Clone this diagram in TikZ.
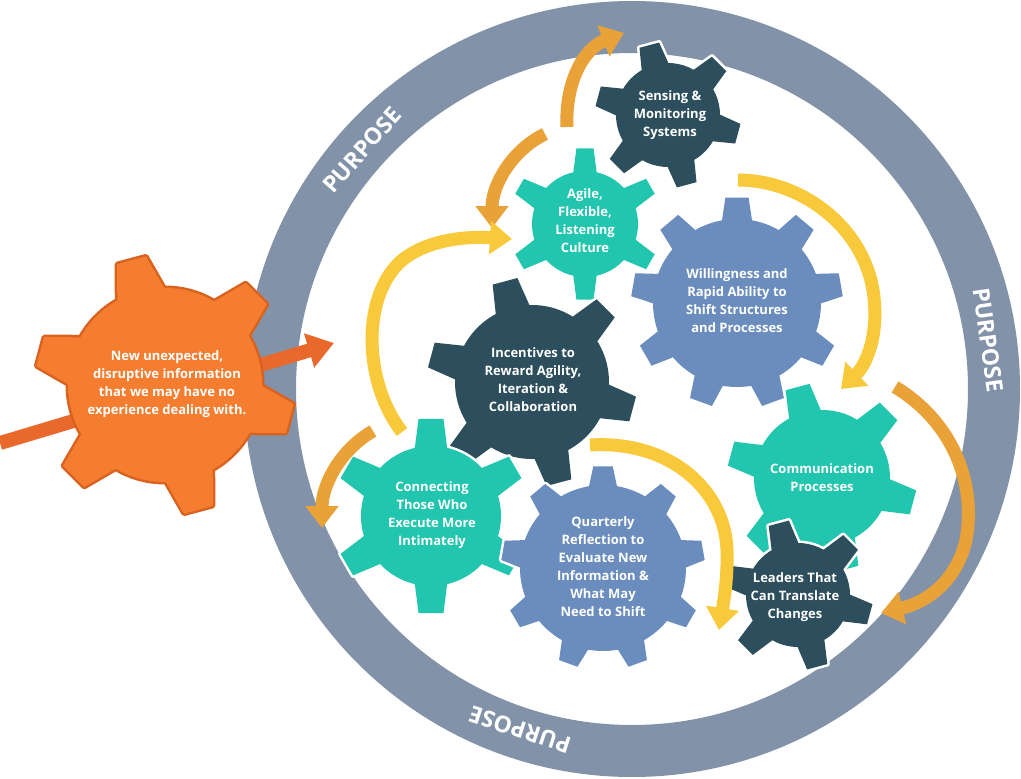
\documentclass[tikz,border=0pt]{standalone}
\usepackage{fontspec}
\setmainfont{Open Sans}
\usetikzlibrary{arrows.meta}
\definecolor{ringc}{HTML}{8293A9}
\definecolor{darkc}{HTML}{2D4E5C}
\definecolor{tealc}{HTML}{22C5AE}
\definecolor{bluec}{HTML}{6A8DBD}
\definecolor{ogfill}{HTML}{F47D30}
\definecolor{ogline}{HTML}{D9621F}
\definecolor{inarrowc}{HTML}{E8692B}
\definecolor{yelc}{HTML}{F8C93A}
\definecolor{ambc}{HTML}{E8A238}
\colorlet{gearline}{white}
% #1 x, #2 y, #3 body radius, #4 tooth radius, #5 teeth, #6 offset angle, #7 base half angle, #8 top half angle, #9 fill
\newcommand\gear[9]{%
  \begin{scope}[shift={(#1,#2)}]
    \path[draw=gearline,line width=5,fill=gearline,line join=round] (0,0) circle[radius=#3]
      \foreach \i in {1,...,#5}{ ({-(#6)-\i*360/#5-(#7)}:{#3-3}) -- ({-(#6)-\i*360/#5-(#8)}:#4)
        -- ({-(#6)-\i*360/#5+(#8)}:#4) -- ({-(#6)-\i*360/#5+(#7)}:{#3-3}) -- cycle };
    \path[fill=#9] (0,0) circle[radius=#3]
      \foreach \i in {1,...,#5}{ ({-(#6)-\i*360/#5-(#7)}:{#3-3}) -- ({-(#6)-\i*360/#5-(#8)}:#4)
        -- ({-(#6)-\i*360/#5+(#8)}:#4) -- ({-(#6)-\i*360/#5+(#7)}:{#3-3}) -- cycle };
  \end{scope}}
\begin{document}
\begin{tikzpicture}[x=1pt,y=-1pt,
  gtext/.style={text=white,font=\bfseries\fontsize{13}{18}\selectfont,align=center,inner sep=0pt},
  purp/.style={text=white,font=\bfseries\fontsize{23}{26}\selectfont,inner sep=0pt},
  yel/.style={draw=yelc,line width=13,-{Triangle[width=32pt,length=22pt]}},
  amb/.style={draw=ambc,line width=13,-{Triangle[width=32pt,length=22pt]}}]
\useasboundingbox (0,0) rectangle (1021,779);
\fill[white] (0,0) rectangle (1021,779);
% ring
\draw[ringc,line width=52] (632,389) circle[radius=362];
\node[purp,rotate=48.5] (p1) at (362,150) {PURPOSE};
\node[purp,rotate=-82] (p2) at (988,340) {PURPOSE};
\node[purp,rotate=162] (p3) at (520,730) {PURPOSE};
% incoming arrow
\coordinate (ins) at (0,443);
\coordinate (ine) at (334,343);
\draw[inarrowc,line width=14,-{Triangle[width=34pt,length=26pt]}] (ins) -- (ine);
% orange gear
\colorlet{gearline}{ogline}
\gear{165}{385}{97}{130}{6}{45}{15.5}{6.6}{ogfill}
\colorlet{gearline}{white}
\node[gtext] (newinfo) at (167,384) {New unexpected,\\disruptive information\\that we may have no\\experience dealing with.};
% gears
\gear{668}{115}{52}{73}{6}{45}{17}{8}{darkc}
\gear{585}{224}{53}{76}{6}{90}{14}{6.5}{tealc}
\gear{737}{303}{84}{106}{9}{90}{11}{6.3}{bluec}
\gear{532}{382}{77}{105}{6}{45}{14}{7}{darkc}
\gear{431}{516}{70}{98}{6}{90}{14.3}{7.3}{tealc}
\gear{603}{568}{83}{102}{9}{90}{10.5}{5.5}{bluec}
\gear{822}{478}{68}{95}{6}{45}{15}{7.5}{tealc}
\gear{798}{595}{52}{75}{6}{45}{17}{8}{darkc}
\node[gtext] (sensing) at (670,115) {Sensing \&\\Monitoring\\Systems};
\node[gtext] (agile) at (585,221) {Agile,\\Flexible,\\Listening\\Culture};
\node[gtext] (willing) at (737,301) {Willingness and\\Rapid Ability to\\Shift Structures\\and Processes};
\node[gtext] (incent) at (533,380) {Incentives to\\Reward Agility,\\Iteration \&\\Collaboration};
\node[gtext] (connect) at (432,515) {Connecting\\Those Who\\Execute More\\Intimately};
\node[gtext] (quarter) at (603,567) {Quarterly\\Reflection to\\Evaluate New\\Information \&\\What May\\Need to Shift};
\node[gtext] (comm) at (822,478) {Communication\\Processes};
\node[gtext] (leaders) at (795,597) {Leaders That\\Can Translate\\Changes};
% curved arrows
\coordinate (a1s) at (567,127); \coordinate (a1e) at (624,33);
\draw[amb] (a1s) .. controls (565,80) and (585,48) .. (a1e);
\coordinate (a2s) at (545,134); \coordinate (a2e) at (492,228);
\draw[amb] (a2s) .. controls (512,150) and (492,185) .. (a2e);
\coordinate (a3s) at (738,180); \coordinate (a3m) at (873,290); \coordinate (a3e) at (841,389);
\draw[yel] (a3s) .. controls (800,180) and (862,225) .. (a3m) .. controls (880,335) and (866,365) .. (a3e);
\coordinate (a4s) at (895,387); \coordinate (a4m) at (966,540); \coordinate (a4e) at (881,613);
\draw[amb] (a4s) .. controls (950,420) and (977,480) .. (a4m) .. controls (957,580) and (928,602) .. (a4e);
\coordinate (a5s) at (402,432); \coordinate (a5m) at (400,262); \coordinate (a5e) at (512,239);
\draw[yel] (a5s) .. controls (365,385) and (360,300) .. (a5m) .. controls (425,240) and (465,236) .. (a5e);
\coordinate (a6s) at (373,431); \coordinate (a6e) at (322,528);
\draw[amb] (a6s) .. controls (340,450) and (322,485) .. (a6e);
\coordinate (a7s) at (590,445); \coordinate (a7m) at (727,550); \coordinate (a7e) at (719,630);
\draw[yel] (a7s) .. controls (670,440) and (725,490) .. (a7m) .. controls (728,580) and (723,605) .. (a7e);
\end{tikzpicture}
\end{document}
